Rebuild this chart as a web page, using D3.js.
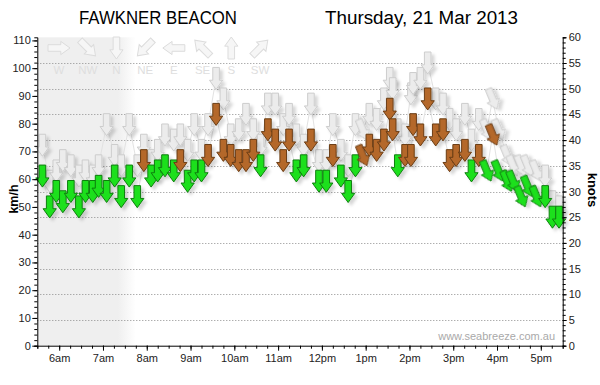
<!DOCTYPE html>
<html><head><meta charset="utf-8">
<script src="https://cdn.jsdelivr.net/npm/d3@7"></script>
<style>html,body{margin:0;padding:0;background:#fff}svg{display:block}</style>
</head><body>
<svg id="chart" width="600" height="385"></svg>
<script>
// ---------------- DATA ----------------
const stationName = "FAWKNER BEACON";
const dateLabel = "Thursday, 21 Mar 2013";
const watermark = "www.seabreeze.com.au";
const sunrise = "7:45";
const times = ["5:37","5:47","5:56","6:05","6:16","6:27","6:36","6:46","6:54","7:05",
  "7:16","7:25","7:36","7:47","7:56","8:06","8:15","8:25","8:37","8:46",
  "8:56","9:05","9:15","9:24","9:35","9:45","9:55","10:06","10:16","10:26",
  "10:36","10:46","10:56","11:07","11:15","11:25","11:35","11:45","11:56","12:06",
  "12:15","12:26","12:36","12:46","12:56","13:05","13:15","13:25","13:33","13:37",
  "13:44","13:54","14:02","14:05","14:15","14:25","14:36","14:46","14:55","15:04",
  "15:16","15:25","15:35","15:46","15:54","16:02","16:14","16:22","16:33","16:42",
  "16:54","17:06","17:16","17:25"];
const avgKnots = [33,27,30,28,30,27,30,30,31,30,
  33,29,33,29,36,33,34,35,34,36,
  32,34,34,37,45,38,37,36,36,38,
  35,42,40,36,40,34,35,40,32,32,
  37,33,30,35,37,39,38,40,46,42,
  35,37,37,43,41,48,41,42,36,37,
  38,34,37,34,41,34,32,32,29,31,
  29,29,25,25];
const gustKnots = [39,32,34,36,35,33,34,33,35,43,
  37,35,43,35,39,36,38,41,40,41,
  38,43,38,43,52,48,41,42,45,42,
  39,47,47,43,45,41,39,47,36,36,
  43,38,35,43,42,45,44,48,52,50,
  42,41,49,51,52,55,48,47,44,42,
  45,40,44,42,48,42,37,35,35,35,
  34,33,28,27];
const directions = ["N","N","N","N","N","N","N","N","N","N",
  "N","N","N","N","N","N","N","N","N","N",
  "N","N","N","N","N","N","N","N","N","N",
  "N","N","N","N","N","N","N","N","N","N",
  "N","N","N","N","NNW","N","N","N","N","N",
  "N","N","N","N","N","N","N","N","N","N",
  "N","N","N","NNW","NNW","NNW","NNW","NNW","NNW","NNW",
  "NNW","N","N","N"];
const hourLabels = ["6am","7am","8am","9am","10am","11am","12pm","1pm","2pm","3pm","4pm","5pm"];
const kmhTicks = [0,10,20,30,40,50,60,70,80,90,100,110];
const knotTicks = [0,5,10,15,20,25,30,35,40,45,50,55,60];
const legendDirs = ["W","NW","N","NE","E","SE","S","SW"];

// ---------------- SETUP ----------------
const bearing = {N:0,NNE:22.5,NE:45,ENE:67.5,E:90,ESE:112.5,SE:135,SSE:157.5,S:180,SSW:202.5,SW:225,WSW:247.5,W:270,WNW:292.5,NW:315,NNW:337.5};
const day = (h,m) => new Date(2013,2,21,h,m);
const parseT = s => { const [h,m] = s.split(":").map(Number); return day(h,m); };
const parseHour = s => { let h = parseInt(s,10); const pm = s.endsWith("pm"); if (pm && h !== 12) h += 12; if (!pm && h === 12) h = 0; return day(h,0); };

const P = {left:37.3, right:562.7, top:37.3, bottom:345.7};
const x = d3.scaleTime().domain([day(5,30), day(17,30)]).range([P.left, P.right]);
const yKn = d3.scaleLinear().domain([0,60]).range([P.bottom, P.top]);
const yKmh = d3.scaleLinear().domain([0,60*1.852]).range([P.bottom, P.top]);

const FONT = "'Liberation Sans', Arial, sans-serif";
const svg = d3.select("#chart");
const defs = svg.append("defs");

const sh = defs.append("filter").attr("id","shadow").attr("x","-60%").attr("y","-60%").attr("width","220%").attr("height","220%");
sh.append("feDropShadow").attr("dx",3).attr("dy",3).attr("stdDeviation",1.4)
  .attr("flood-color","#000").attr("flood-opacity",0.16);

const xs = x(parseT(sunrise));
const grad = defs.append("linearGradient").attr("id","night").attr("gradientUnits","userSpaceOnUse")
  .attr("x1",P.left).attr("x2",xs).attr("y1",0).attr("y2",0);
grad.append("stop").attr("offset", (xs-18-P.left)/(xs-P.left)).attr("stop-color","#efefef");
grad.append("stop").attr("offset", 1).attr("stop-color","#ffffff");

// night shading
svg.append("rect").attr("x",P.left).attr("y",P.top).attr("width",xs-P.left).attr("height",P.bottom-P.top)
  .attr("fill","url(#night)");

// grid lines (knots)
svg.append("g").selectAll("line").data(knotTicks.filter(k => k>0 && k<60)).join("line")
  .attr("x1",P.left).attr("x2",P.right)
  .attr("y1",d => Math.round(yKn(d))+0.5).attr("y2",d => Math.round(yKn(d))+0.5)
  .attr("stroke","#8c8c8c").attr("stroke-width",1).attr("stroke-dasharray","1,2");

// legend (compass)
const lx = d3.scalePoint().domain(legendDirs).range([59,260]);
const ARROW = "M-3.3,-11L3.3,-11L3.3,1.8L6.6,1.8L0,11L-6.6,1.8L-3.3,1.8Z";
const leg = svg.append("g");
leg.selectAll("path").data(legendDirs).join("path")
  .attr("d",ARROW)
  .attr("transform",d => `translate(${lx(d)},48) rotate(${bearing[d]})`)
  .attr("fill","#f6f6f6").attr("stroke","#dcdcdc").attr("stroke-width",1);
leg.selectAll("text").data(legendDirs).join("text")
  .attr("x",d => lx(d)).attr("y",74).attr("text-anchor","middle")
  .attr("font-family",FONT).attr("font-size",11.5).attr("fill","#dedede").text(d => d);

// observations
const obs = times.map((t,i) => ({t: parseT(t), avg: avgKnots[i], gust: gustKnots[i], dir: directions[i]}));

// faint connecting lines
const lineG = d3.line().x(d => x(d.t)).y(d => yKn(d.gust));
const lineA = d3.line().x(d => x(d.t)).y(d => yKn(d.avg));
svg.append("path").attr("d",lineG(obs)).attr("fill","none").attr("stroke","#e2e2e2").attr("stroke-width",1);
svg.append("path").attr("d",lineA(obs)).attr("fill","none").attr("stroke","#e2e2e2").attr("stroke-width",1);

// gust arrows
svg.append("g").selectAll("path").data(obs).join("path")
  .attr("d",ARROW)
  .attr("transform",d => `translate(${x(d.t)},${yKn(d.gust)}) rotate(${bearing[d.dir]})`)
  .attr("fill","#ececec").attr("stroke","#cdcdcd").attr("stroke-width",1)
  .attr("filter","url(#shadow)");

// average arrows
const brownAbove = 35;
svg.append("g").selectAll("path").data(obs).join("path")
  .attr("d",ARROW)
  .attr("transform",d => `translate(${x(d.t)},${yKn(d.avg)}) rotate(${bearing[d.dir]})`)
  .attr("fill",d => d.avg > brownAbove ? "#b4682a" : "#1fe01f")
  .attr("stroke",d => d.avg > brownAbove ? "#6b3d14" : "#0f7f0f").attr("stroke-width",1)
  .attr("filter","url(#shadow)");

// ---------------- AXES ----------------
function styleAxis(g){
  g.selectAll("path.domain").attr("stroke","#000");
  g.selectAll(".tick line").attr("stroke","#000");
  g.selectAll("text").attr("font-family",FONT).attr("font-size",11).attr("fill","#222");
}
// left km/h
svg.append("g").attr("transform",`translate(${P.left},0)`)
  .call(d3.axisLeft(yKmh).tickValues(d3.range(0,111,2)).tickSize(3).tickFormat(""))
  .call(styleAxis);
svg.append("g").attr("transform",`translate(${P.left},0)`)
  .call(d3.axisLeft(yKmh).tickValues(kmhTicks).tickSize(5).tickPadding(1.5))
  .call(styleAxis).call(g => g.select(".domain").remove());
// right knots
svg.append("g").attr("transform",`translate(${P.right},0)`)
  .call(d3.axisRight(yKn).tickValues(d3.range(0,61,1)).tickSize(3).tickFormat(""))
  .call(styleAxis);
svg.append("g").attr("transform",`translate(${P.right},0)`)
  .call(d3.axisRight(yKn).tickValues(knotTicks).tickSize(4).tickPadding(2))
  .call(styleAxis).call(g => g.select(".domain").remove());
// bottom time
svg.append("g").attr("transform",`translate(0,${P.bottom})`)
  .call(d3.axisBottom(x).ticks(d3.timeMinute.every(15)).tickSize(3).tickFormat(""))
  .call(styleAxis);
const hourDates = hourLabels.map(parseHour);
svg.append("g").attr("transform",`translate(0,${P.bottom})`)
  .call(d3.axisBottom(x).tickValues(hourDates).tickSize(5).tickPadding(4).tickFormat((d,i) => hourLabels[i]))
  .call(styleAxis).call(g => g.select(".domain").remove());

// axis titles
svg.append("text").attr("transform","translate(18,199) rotate(-90)").attr("text-anchor","middle")
  .attr("font-family",FONT).attr("font-weight","bold").attr("font-size",12.5).attr("fill","#000").text("km/h");
svg.append("text").attr("transform","translate(588,190) rotate(90)").attr("text-anchor","middle")
  .attr("font-family",FONT).attr("font-weight","bold").attr("font-size",13).attr("fill","#000").text("knots");

// titles
svg.append("text").attr("x",79).attr("y",24).attr("textLength",158).attr("lengthAdjust","spacingAndGlyphs")
  .attr("font-family",FONT).attr("font-size",18).attr("fill","#000").text(stationName);
svg.append("text").attr("x",325).attr("y",24).attr("textLength",193).attr("lengthAdjust","spacingAndGlyphs")
  .attr("font-family",FONT).attr("font-size",18).attr("fill","#000").text(dateLabel);

// watermark
svg.append("text").attr("x",555).attr("y",340).attr("text-anchor","end")
  .attr("font-family",FONT).attr("font-size",11).attr("fill","#a9a9a9").text(watermark);
</script>
</body></html>
